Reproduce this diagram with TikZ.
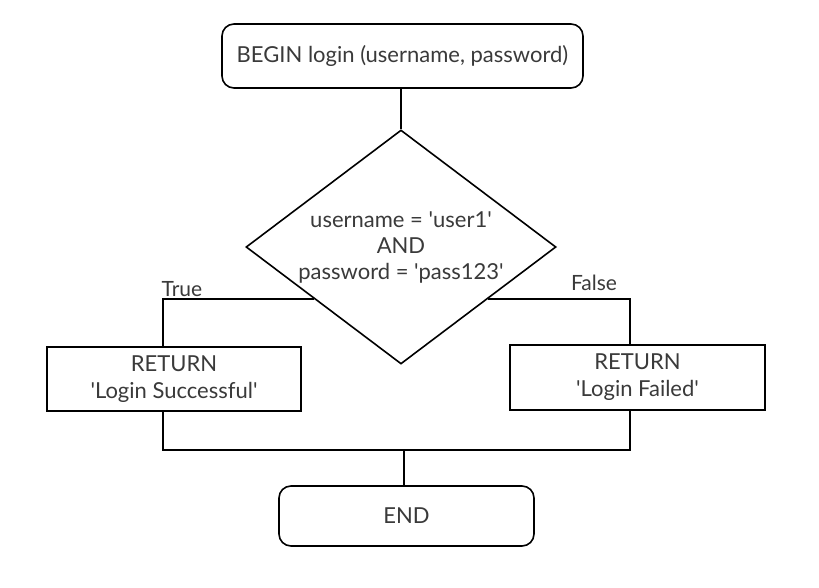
\documentclass[tikz,border=0pt]{standalone}
\usepackage{fontspec}
\setmainfont{Lato}[Ligatures=TeXOff]
\usetikzlibrary{shapes.geometric}
\definecolor{txt}{HTML}{3A3A3A}
\begin{document}
\begin{tikzpicture}[x=1pt,y=-1pt,
  base/.style={draw=black, line width=1.6pt, text=txt, align=center, inner sep=0pt,
    font=\fontsize{22}{27}\selectfont},
  term/.style={base, rounded corners=12pt},
  procbox/.style={base},
  decision/.style={base, diamond, aspect=1.325, minimum width=310pt, minimum height=234pt,
    font=\fontsize{22}{26}\selectfont},
  lbl/.style={text=txt, font=\fontsize{21}{24}\selectfont, inner sep=0pt},
  conn/.style={line width=1.6pt, black}]
\useasboundingbox (0,0) rectangle (819,588);
\fill[white] (0,0) rectangle (819,588);

\node[term, minimum width=361pt, minimum height=64pt] (b) at (402.5,56) {BEGIN login (username, password)};
\node[decision] (d) at (401,247) {username = 'user1'\\AND\\password = 'pass123'};
\node[procbox, minimum width=254pt, minimum height=64pt] (l) at (174,379) {RETURN\\'Login Successful'};
\node[procbox, minimum width=255pt, minimum height=65pt] (r) at (637.5,377.5) {RETURN\\'Login Failed'};
\node[term, minimum width=255pt, minimum height=60pt] (e) at (406.5,516) {END};
\node[lbl] (tl) at (182,289) {True};
\node[lbl] (fl) at (594,283) {False};
\coordinate (m) at (404,450);

\draw[conn] (d.north) -- (d.north |- b.south);
\draw[conn] (d.211) -| ([xshift=-11pt]l.north);
\draw[conn] (d.-31) -| ([xshift=-7.5pt]r.north);
\draw[conn] ([xshift=-11pt]l.south) |- (m);
\draw[conn] ([xshift=-7.5pt]r.south) |- (m);
\draw[conn] (m) -- (m |- e.north);
\end{tikzpicture}
\end{document}
